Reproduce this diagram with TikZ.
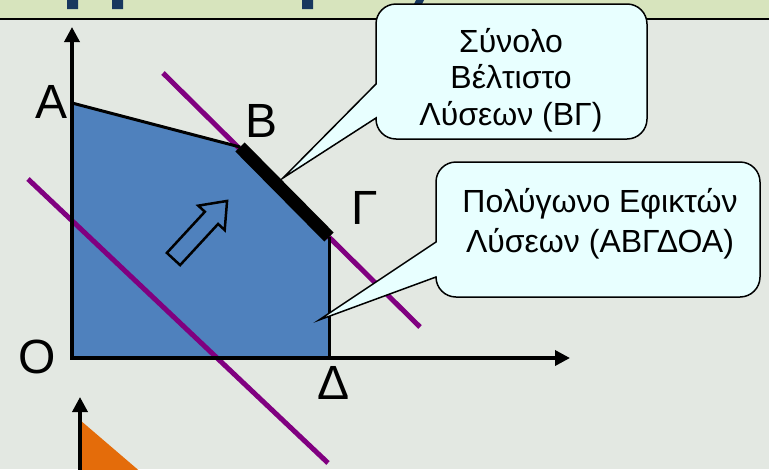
\documentclass[tikz,border=0pt]{standalone}
\usepackage{fontspec}
\setmainfont{Liberation Sans}
\usetikzlibrary{arrows.meta}

\definecolor{slidebg}{HTML}{E3E8E2}
\definecolor{titleband}{HTML}{D7E4BD}
\definecolor{titleink}{HTML}{17375E}
\definecolor{regionblue}{HTML}{4F81BD}
\definecolor{isopurple}{HTML}{800080}
\definecolor{calloutfill}{HTML}{E8FFFF}
\definecolor{cornerorange}{HTML}{E46C0A}

\begin{document}
\begin{tikzpicture}[x=1pt,y=-1pt,
	axis/.style={line width=3.5pt,line join=miter,-{Triangle[length=15pt,width=15pt]}},
	isoline/.style={line width=5pt,isopurple},
	edge/.style={line width=3pt},
	vlabel/.style={font=\fontsize{48}{52}\selectfont,inner sep=0pt},
	callout/.style={draw,line width=1.5pt,fill=calloutfill},
	calltext/.style={align=center,inner sep=0pt}]
	\clip (0,0) rectangle (769,469);
	\fill[slidebg] (0,0) rectangle (769,469);
	% title band (cut off)
	\fill[titleband] (0,0) rectangle (769,18);
	\fill[titleink] (67,0) rectangle (78,9) (112,0) rectangle (123,9) (302,0) rectangle (313,9);
	\fill[titleink] (416,0) -- (424,0) -- (419,10) -- (411,10) -- cycle;
	\draw[line width=2pt] (0,18.5) -- (769,18.5);
	% corner points of the region
	\coordinate (O) at (72,358);
	\coordinate (A) at (72,103);
	\coordinate (B) at (240,147);
	\coordinate (G) at (329,237);
	\coordinate (D) at (329,358);
	\coordinate (yTop) at (72,27);
	\coordinate (xEnd) at (570,358);
	\fill[regionblue] (O) -- (A) -- (B) -- (G) -- (D) -- cycle;
	% objective lines
	\draw[isoline] (163,73) -- (420,327);
	\draw[isoline] (28,179) -- (328,463);
	\draw[edge] (A) -- (B);
	\draw[edge] (G) -- (D);
	\draw[line width=13pt] (B) -- (G);
	\draw[axis,{Triangle[length=15pt,width=15pt]}-{Triangle[length=15pt,width=15pt]}] (yTop) -- (O) -- (xEnd);
	% direction of improvement
	\begin{scope}[shift={(173.5,259)},rotate=47.3]
		\draw[line width=2.5pt,line join=miter,fill=regionblue] (0,9) -- (56,9) -- (56,18) -- (79,0) -- (56,-18) -- (56,-9) -- (0,-9) -- cycle;
	\end{scope}
	\node[vlabel] (lA) at (52,102) {Α};
	\node[vlabel] (lB) at (262,121) {Β};
	\node[vlabel] (lG) at (365,208) {Γ};
	\node[vlabel] (lO) at (37,357) {Ο};
	\node[vlabel] (lD) at (334,383) {Δ};
	% callouts
	\coordinate (tipBG) at (283,178);
	\draw[callout] (376,60) -- (376,84) -- (tipBG) -- (376,118) [rounded corners=20pt] -- (376,139) -- (647,139) -- (647,4) -- (376,4) -- cycle;
	\node[calltext,font=\fontsize{32}{36.5}\selectfont] (optset) at (511,80) {Σύνολο\\Βέλτιστο\\Λύσεων (ΒΓ)};
	\coordinate (tipPoly) at (319,320);
	\draw[callout] (436,200) -- (436,242) -- (tipPoly) -- (436,277) [rounded corners=20pt] -- (436,297) -- (760,297) -- (760,162) -- (436,162) -- cycle;
	\node[calltext,font=\fontsize{32}{40}\selectfont] (feasible) at (600,224) {Πολύγωνο Εφικτών\\Λύσεων (ΑΒΓΔΟΑ)};
	% next figure (cut off)
	\coordinate (y2Top) at (80,397);
	\fill[cornerorange] (80,420) -- (80,480) -- (150,480) -- cycle;
	\draw[axis] (80,480) -- (y2Top);
\end{tikzpicture}
\end{document}
